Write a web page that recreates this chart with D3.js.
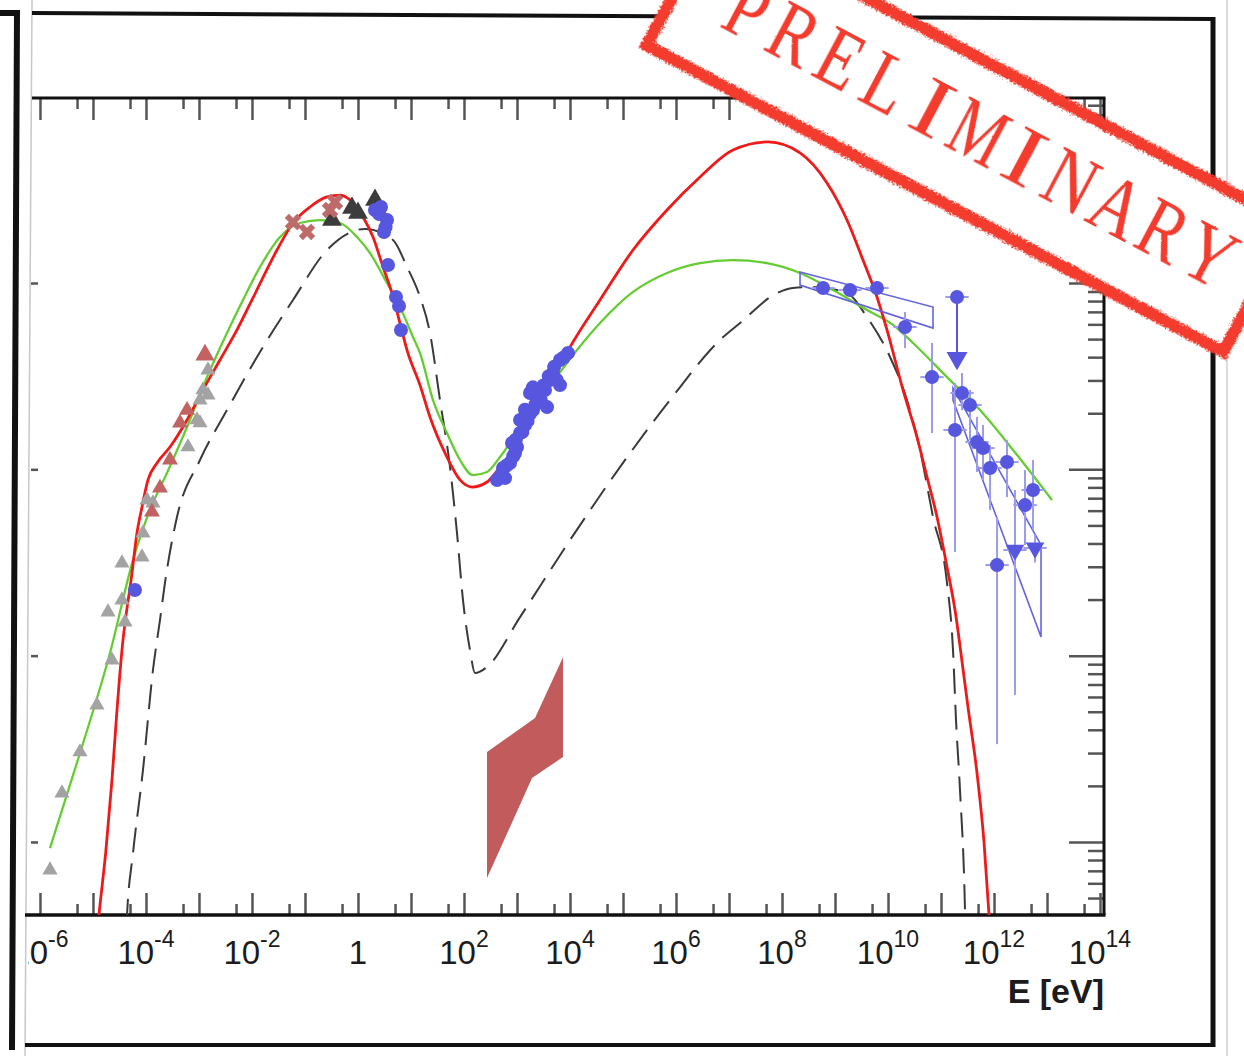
<!DOCTYPE html>
<html>
<head>
<meta charset="utf-8">
<script src="https://cdn.jsdelivr.net/npm/d3@7"></script>
<style>
  html, body { margin: 0; padding: 0; background: #fff; }
  svg { display: block; }
</style>
</head>
<body>
<script>
// ---------- DATA (log10 E [eV], log10 nuFnu) ----------
const xLabelExps = [-6, -4, -2, 0, 2, 4, 6, 8, 10, 12, 14];
const xMajorExps = d3.range(-6, 15);
const xMinorExps = d3.range(-6, 14);          // 5 x 10^n
const yMajorExps = [-12, -11, -10, -9, -8];
const yMinorMult = [2, 3, 4, 5, 6, 7, 8, 9];
const stampText = "PRELIMINARY";

const redModel = [[-5.03,-12.85],[-4.887,-12.392],[-4.755,-12.043],[-4.642,-11.668],[-4.547,-11.292],[-4.453,-10.970],[-4.264,-10.557],[-4.170,-10.342],[-4.075,-10.202],[-3.962,-10.057],[-3.792,-9.966],[-3.547,-9.880],[-3.226,-9.735],[-2.925,-9.574],[-2.604,-9.413],[-2.283,-9.252],[-2.0,-9.091],[-1.528,-8.823],[-1.226,-8.678],[-0.906,-8.592],[-0.585,-8.538],[-0.340,-8.528],[-0.151,-8.554],[0.094,-8.646],[0.283,-8.753],[0.472,-8.914],[0.642,-9.054],[0.792,-9.215],[0.925,-9.360],[1.170,-9.548],[1.358,-9.719],[1.679,-9.934],[1.925,-10.057],[2.151,-10.095],[2.434,-10.068],[2.679,-9.988],[3.057,-9.843],[3.528,-9.601],[4.0,-9.344],[4.566,-9.091],[5.189,-8.823],[5.830,-8.608],[6.453,-8.431],[7.075,-8.286],[7.736,-8.243],[8.340,-8.302],[8.849,-8.463],[9.226,-8.662],[9.528,-8.877],[9.792,-9.075],[9.981,-9.252],[10.283,-9.574],[10.547,-9.827],[10.736,-10.041],[10.925,-10.256],[11.113,-10.524],[11.264,-10.755],[11.415,-11.072],[11.509,-11.276],[11.679,-11.630],[11.811,-12.001],[11.906,-12.392],[11.98,-12.741]];

const greenModel = [[-5.811,-12.033],[-5.245,-11.523],[-4.679,-10.986],[-4.245,-10.487],[-3.925,-10.218],[-3.604,-10.020],[-3.226,-9.773],[-2.849,-9.505],[-2.472,-9.268],[-2.170,-9.091],[-1.849,-8.914],[-1.472,-8.753],[-1.094,-8.678],[-0.717,-8.662],[-0.340,-8.678],[-0.019,-8.753],[0.226,-8.839],[0.547,-9.0],[0.792,-9.129],[1.038,-9.290],[1.170,-9.376],[1.415,-9.628],[1.679,-9.805],[1.925,-9.950],[2.170,-10.031],[2.434,-10.014],[2.679,-9.934],[3.057,-9.778],[3.528,-9.590],[4.132,-9.360],[4.566,-9.215],[5.189,-9.048],[5.830,-8.946],[6.453,-8.893],[7.075,-8.877],[7.717,-8.893],[8.340,-8.946],[8.962,-9.038],[9.604,-9.145],[10.094,-9.225],[10.472,-9.322],[11.113,-9.505],[11.736,-9.682],[12.358,-9.896],[13.094,-10.165]];

const dashedModel = [[-4.396,-12.634],[-4.358,-12.392],[-4.245,-12.060],[-4.057,-11.614],[-3.868,-11.077],[-3.736,-10.809],[-3.642,-10.610],[-3.415,-10.256],[-2.981,-9.950],[-2.472,-9.682],[-1.849,-9.370],[-1.226,-9.091],[-0.585,-8.823],[0.132,-8.710],[0.660,-8.769],[0.925,-8.914],[1.170,-9.075],[1.358,-9.268],[1.547,-9.628],[1.736,-9.988],[1.868,-10.342],[1.981,-10.702],[2.113,-10.970],[2.208,-11.093],[2.434,-11.061],[3.057,-10.793],[4.0,-10.380],[4.943,-9.988],[5.887,-9.628],[6.830,-9.306],[7.208,-9.215],[7.906,-9.054],[8.208,-9.027],[8.585,-9.021],[9.226,-9.054],[9.604,-9.183],[10.038,-9.397],[10.358,-9.628],[10.604,-9.896],[10.849,-10.256],[11.113,-10.610],[11.226,-10.970],[11.283,-11.346],[11.358,-11.721],[11.453,-12.376],[11.472,-12.634]];

const radioGray = [[-5.811,-12.151],[-5.585,-11.738],[-5.245,-11.517],[-4.925,-11.265],[-4.642,-11.024],[-4.717,-10.766],[-4.453,-10.702],[-4.396,-10.820],[-4.453,-10.503],[-4.075,-10.471],[-4.057,-10.342],[-3.981,-10.165],[-3.868,-10.181],[-3.208,-9.880],[-3.038,-9.735],[-2.981,-9.751],[-2.981,-9.628],[-2.925,-9.574],[-2.830,-9.601],[-2.830,-9.467]];
const radioBrown = [[-2.887,-9.386],[-3.226,-9.682],[-3.358,-9.751],[-3.547,-9.950],[-3.736,-10.100],[-3.887,-10.229]];
const irDark = [[-0.491,-8.662],[-0.113,-8.597],[0.0,-8.624],[0.321,-8.554]];
const irCross = [[-1.226,-8.673],[-0.962,-8.726],[-0.528,-8.608],[-0.434,-8.565]];
const optBlue = [[-4.208,-10.648],[0.321,-8.608],[0.434,-8.592],[0.547,-8.662],[0.491,-8.726],[0.40,-8.63],[0.52,-8.70],[0.566,-8.903],[0.717,-9.075],[0.774,-9.123],[0.811,-9.252]];
const xrayBlue = [[2.623,-10.057],[2.774,-10.047],[2.736,-9.993],[2.868,-9.966],[2.962,-9.912],[2.906,-9.859],[3.057,-9.805],[3.151,-9.762],[3.057,-9.735],[3.189,-9.698],[3.302,-9.682],[3.245,-9.590],[3.377,-9.612],[3.566,-9.666],[3.528,-9.574],[3.623,-9.521],[3.811,-9.548],[3.679,-9.483],[3.811,-9.413],[3.962,-9.376],[2.70,-10.03],[2.80,-9.98],[2.93,-9.93],[3.0,-9.88],[3.10,-9.80],[3.20,-9.74],[3.25,-9.70],[3.35,-9.65],[3.40,-9.60],[3.45,-9.63],[3.50,-9.55],[3.60,-9.50],[3.70,-9.45],[3.75,-9.52],[3.88,-9.40],[3.15,-9.68],[3.30,-9.56],[2.98,-9.84]];
const fermiPoints = [[8.774,-9.027,-9.06,-9.0],[9.283,-9.038,-9.07,-9.01],[9.792,-9.027,-9.06,-9.0]];
// [logE, logF, logF low, logF high]
const tevPoints = [[10.321,-9.236,-9.349,-9.156],[10.830,-9.505,-9.805,-9.322],[11.264,-9.789,-10.444,-9.537],[11.396,-9.590,-9.682,-9.483],[11.547,-9.655,-9.843,-9.574],[11.679,-9.853,-10.014,-9.719],[11.792,-9.886,-10.057,-9.762],[11.925,-9.993,-10.218,-9.870],[12.245,-9.961,-10.149,-9.843],[12.585,-10.192,-10.406,-10.004],[12.736,-10.111,-10.326,-9.950],[12.057,-10.514,-11.475,-10.256]];
// upper limits: [logE, logF start, logF arrow]
const upperLimits = [[11.302,-9.075,-9.403]];
const limitTriangles = [[12.396,-10.433,-11.211,-10.111],[12.774,-10.422,-10.50,-10.35]];
const fermiBowtie = [[8.340,-8.941],[10.849,-9.129],[10.849,-9.242],[8.340,-9.011]];
const tevBowtie = [[11.226,-9.564],[12.887,-10.406],[12.887,-10.900],[11.226,-9.628]];
const xrayBowtie = [[2.434,-11.517],[3.340,-11.335],[3.868,-11.008],[3.868,-11.544],[3.283,-11.657],[2.434,-12.194]];

// ---------- LAYOUT ----------
const W = 1244, H = 1056;
const X0 = 28, X1 = 1104, Y0 = 98, Y1 = 915;
const x = d3.scaleLog().domain([Math.pow(10,-6.226), Math.pow(10,14.075)]).range([X0, X1]);
const y = d3.scaleLog().domain([Math.pow(10,-12.392), Math.pow(10,-8.007)]).range([Y1, Y0]);
const px = d => x(Math.pow(10, d[0]));
const py = v => y(Math.pow(10, v));

const svg = d3.select("body").append("svg").attr("width", W).attr("height", H)
  .style("font-family", "'Liberation Sans', Arial, Helvetica, sans-serif");

const defs = svg.append("defs");
defs.append("clipPath").attr("id", "plotClip").append("rect")
  .attr("x", X0).attr("y", Y0).attr("width", X1 - X0).attr("height", Y1 - Y0);
defs.append("clipPath").attr("id", "labelClip").append("rect")
  .attr("x", 28).attr("y", 0).attr("width", W - 28).attr("height", H);
const f1 = defs.append("filter").attr("id", "rough").attr("x", "-10%").attr("y", "-30%").attr("width", "120%").attr("height", "160%");
f1.append("feTurbulence").attr("type", "fractalNoise").attr("baseFrequency", "0.55").attr("numOctaves", 2).attr("seed", 4).attr("result", "noise");
f1.append("feDisplacementMap").attr("in", "SourceGraphic").attr("in2", "noise").attr("scale", 7)
  .attr("xChannelSelector", "R").attr("yChannelSelector", "G");
const f2 = defs.append("filter").attr("id", "roughText").attr("x", "-20%").attr("y", "-20%").attr("width", "140%").attr("height", "140%");
f2.append("feTurbulence").attr("type", "fractalNoise").attr("baseFrequency", "0.9").attr("numOctaves", 1).attr("seed", 2).attr("result", "noise");
f2.append("feDisplacementMap").attr("in", "SourceGraphic").attr("in2", "noise").attr("scale", 2)
  .attr("xChannelSelector", "R").attr("yChannelSelector", "G");

// ---------- OUTER FRAMES ----------
svg.append("path").attr("d", "M0,13 L17,13 L12,1050").attr("fill", "none").attr("stroke", "#111").attr("stroke-width", 6);
svg.append("line").attr("x1", 32).attr("y1", 0).attr("x2", 25).attr("y2", H).attr("stroke", "#c8c8c8").attr("stroke-width", 1.5);
svg.append("line").attr("x1", 32).attr("y1", 13).attr("x2", 1213).attr("y2", 19).attr("stroke", "#111").attr("stroke-width", 4);
svg.append("line").attr("x1", 1213).attr("y1", 17).attr("x2", 1213).attr("y2", 1047).attr("stroke", "#111").attr("stroke-width", 5);
svg.append("line").attr("x1", 1227).attr("y1", 0).attr("x2", 1227).attr("y2", H).attr("stroke", "#d0d0d0").attr("stroke-width", 1.5);
svg.append("line").attr("x1", 25).attr("y1", 1045).attr("x2", 1215).attr("y2", 1045).attr("stroke", "#111").attr("stroke-width", 4);

// ---------- AXES / TICKS ----------
const tickColor = "#555";
function styleAxis(g) {
  g.select(".domain").remove();
  g.selectAll(".tick line").attr("stroke", tickColor).attr("stroke-width", 2.5);
  g.selectAll(".tick text").remove();
}
const xMaj = xMajorExps.map(e => Math.pow(10, e));
const xMin = xMinorExps.map(e => 5 * Math.pow(10, e));
svg.append("g").attr("transform", `translate(0,${Y1})`).call(d3.axisBottom(x).tickValues(xMaj).tickSize(-22).tickFormat("")).call(styleAxis);
svg.append("g").attr("transform", `translate(0,${Y1})`).call(d3.axisBottom(x).tickValues(xMin).tickSize(-11).tickFormat("")).call(styleAxis);
svg.append("g").attr("transform", `translate(0,${Y0})`).call(d3.axisTop(x).tickValues(xMaj).tickSize(-22).tickFormat("")).call(styleAxis);
svg.append("g").attr("transform", `translate(0,${Y0})`).call(d3.axisTop(x).tickValues(xMin).tickSize(-11).tickFormat("")).call(styleAxis);

const yMaj = yMajorExps.map(e => Math.pow(10, e)).filter(v => y(v) > Y0 + 2 && y(v) < Y1 - 2);
const yMin = [];
[-13, -12, -11, -10, -9].forEach(e => yMinorMult.forEach(m => {
  const v = m * Math.pow(10, e);
  if (y(v) > Y0 + 2 && y(v) < Y1 - 2) yMin.push(v);
}));
svg.append("g").attr("transform", `translate(${X1},0)`).call(d3.axisRight(y).tickValues(yMaj).tickSize(-35).tickFormat("")).call(styleAxis);
svg.append("g").attr("transform", `translate(${X1},0)`).call(d3.axisRight(y).tickValues(yMin).tickSize(-16).tickFormat("")).call(styleAxis);
svg.append("g").attr("transform", `translate(31,0)`).call(d3.axisLeft(y).tickValues(yMaj).tickSize(-7).tickFormat("")).call(styleAxis);

// plot frame
svg.append("line").attr("x1", 32).attr("y1", Y0).attr("x2", X1 + 1.5).attr("y2", Y0).attr("stroke", "#111").attr("stroke-width", 3);
svg.append("line").attr("x1", 25).attr("y1", Y1).attr("x2", X1 + 1.5).attr("y2", Y1).attr("stroke", "#111").attr("stroke-width", 3.5);
svg.append("line").attr("x1", X1).attr("y1", Y0).attr("x2", X1).attr("y2", Y1).attr("stroke", "#111").attr("stroke-width", 3);

// tick labels
const lab = svg.append("g").attr("clip-path", "url(#labelClip)");
xLabelExps.forEach(e => {
  const t = lab.append("text").attr("x", x(Math.pow(10, e))).attr("y", 964)
    .attr("text-anchor", "middle").attr("font-size", 33).attr("fill", "#1c1c1c");
  if (e === 0) { t.text("1"); }
  else {
    t.append("tspan").text("10");
    t.append("tspan").attr("dy", -17).attr("font-size", 23).text(String(e));
  }
});
svg.append("text").attr("x", X1).attr("y", 1003).attr("text-anchor", "end")
  .attr("font-size", 34).attr("font-weight", "bold").attr("fill", "#1c1c1c").text("E [eV]");

// ---------- PLOT CONTENT ----------
const plot = svg.append("g").attr("clip-path", "url(#plotClip)");
const line = d3.line().x(px).y(d => py(d[1])).curve(d3.curveMonotoneX);

// X-ray bowtie (shaded)
plot.append("path").attr("d", d3.line().x(px).y(d => py(d[1]))(xrayBowtie) + "Z")
  .attr("fill", "#c25c5c").attr("stroke", "none");

plot.append("path").attr("d", line(dashedModel)).attr("fill", "none")
  .attr("stroke", "#3a3a3a").attr("stroke-width", 2).attr("stroke-dasharray", "25,11");
plot.append("path").attr("d", line(greenModel)).attr("fill", "none")
  .attr("stroke", "#66cc33").attr("stroke-width", 2.3);
plot.append("path").attr("d", line(redModel)).attr("fill", "none")
  .attr("stroke", "#ee1a1a").attr("stroke-width", 2.8);

// symbols
const tri = d3.symbol().type(d3.symbolTriangle);
plot.selectAll(".gt").data(radioGray).join("path")
  .attr("transform", d => `translate(${px(d)},${py(d[1])})`).attr("d", tri.size(100)()).attr("fill", "#a3a3a3");
plot.selectAll(".bt").data(radioBrown).join("path")
  .attr("transform", (d, i) => `translate(${px(d)},${py(d[1])})`).attr("d", (d, i) => tri.size(i === 0 ? 160 : 110)()).attr("fill", "#c26262");
plot.selectAll(".dt").data(irDark).join("path")
  .attr("transform", d => `translate(${px(d)},${py(d[1])})`).attr("d", tri.size(170)()).attr("fill", "#3c3c3c");
plot.selectAll(".cx").data(irCross).join("path")
  .attr("transform", d => `translate(${px(d)},${py(d[1])}) rotate(45)`).attr("d", d3.symbol().type(d3.symbolCross).size(170)()).attr("fill", "#bf6a6a");

const blue = "#5656de", blueErr = "#9c9cef";
// bowties
[fermiBowtie, tevBowtie].forEach(b => {
  plot.append("path").attr("d", d3.line().x(px).y(d => py(d[1]))(b) + "Z")
    .attr("fill", "none").attr("stroke", "#6464e0").attr("stroke-width", 1.6);
});
// error bars
const errPts = tevPoints.concat(fermiPoints, limitTriangles);
plot.selectAll(".ev").data(errPts).join("line")
  .attr("x1", px).attr("x2", px).attr("y1", d => py(d[2])).attr("y2", d => py(d[3]))
  .attr("stroke", blueErr).attr("stroke-width", 2);
plot.selectAll(".eh").data(errPts).join("line")
  .attr("x1", d => x(Math.pow(10, d[0] - 0.22))).attr("x2", d => x(Math.pow(10, d[0] + 0.22)))
  .attr("y1", d => py(d[1])).attr("y2", d => py(d[1]))
  .attr("stroke", blueErr).attr("stroke-width", 2);
// upper limit arrows
plot.selectAll(".ul").data(upperLimits).join("line")
  .attr("x1", px).attr("x2", px).attr("y1", d => py(d[1])).attr("y2", d => py(d[2]))
  .attr("stroke", blue).attr("stroke-width", 2);
plot.selectAll(".ulh").data(upperLimits).join("line")
  .attr("x1", d => x(Math.pow(10, d[0] - 0.22))).attr("x2", d => x(Math.pow(10, d[0] + 0.22)))
  .attr("y1", d => py(d[1])).attr("y2", d => py(d[1]))
  .attr("stroke", blueErr).attr("stroke-width", 2);
plot.selectAll(".ult").data(upperLimits).join("path")
  .attr("transform", d => `translate(${px(d)},${py(d[2])}) rotate(180)`).attr("d", tri.size(190)()).attr("fill", blue);
plot.selectAll(".lt").data(limitTriangles).join("path")
  .attr("transform", d => `translate(${px(d)},${py(d[1])}) rotate(180)`).attr("d", tri.size(150)()).attr("fill", blue);

// circles
const circ = optBlue.concat(xrayBlue, fermiPoints, tevPoints, upperLimits);
plot.selectAll(".bc").data(circ).join("circle")
  .attr("cx", px).attr("cy", d => py(d[1])).attr("r", 7).attr("fill", blue);

// ---------- PRELIMINARY STAMP ----------
const stampRed = "#f33a2e";
const stamp = svg.append("g").attr("transform", "translate(638,48) rotate(28)");
stamp.append("rect").attr("x", 4).attr("y", -154).attr("width", 658).attr("height", 150).attr("fill", "#fff");
stamp.append("rect").attr("x", 6.5).attr("y", -151.5).attr("width", 653).attr("height", 145)
  .attr("fill", "none").attr("stroke", stampRed).attr("stroke-width", 12).attr("filter", "url(#rough)");
const st = stamp.append("g").attr("filter", "url(#roughText)");
stampText.split("").forEach((ch, i) => {
  const sx = ch === "I" ? 1.25 : (ch === "M" ? 0.72 : 0.8);
  st.append("text").attr("transform", `translate(${79 + i * 52.3},-57) scale(${sx},1)`)
    .attr("text-anchor", "middle")
    .attr("font-family", "'Liberation Serif', 'DejaVu Serif', serif").attr("font-size", 84)
    .attr("fill", stampRed).text(ch);
});
</script>
</body>
</html>
